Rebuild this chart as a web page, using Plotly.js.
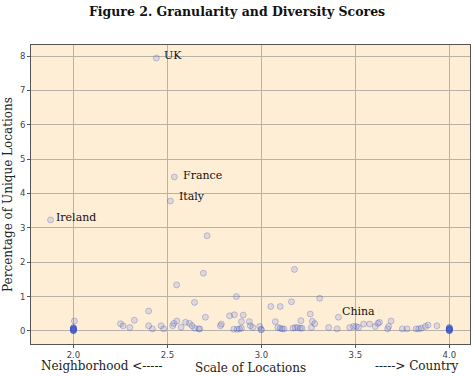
<!DOCTYPE html>
<html><head><meta charset="utf-8">
<script src="https://cdn.plot.ly/plotly-3.0.1.min.js"></script>
<style>html,body{margin:0;padding:0;background:#fff}#c{width:474px;height:376px}</style>
</head><body><div id="c"></div>
<script>
// Scale score (x) and percentage of unique locations (y)
const scale = [
  2.441, 2.537, 2.516, 1.878, 2.711, 2.691, 2.549, 3.176,
  2.005, 2.25, 2.264, 2.30, 2.324, 2.40, 2.40, 2.42, 2.466, 2.48,
  2.644, 2.867, 3.05, 2.702, 2.534, 2.528, 2.55, 2.573, 2.596, 2.617, 2.631,
  2.645, 2.667, 2.672, 2.782, 2.787, 2.831, 2.856, 2.903, 2.894, 2.936, 2.941, 2.954,
  2.853, 2.871, 2.883, 2.894, 2.991, 2.998, 3.0, 3.074,
  3.31, 3.16, 3.10, 3.26, 3.21, 3.271, 3.284, 3.41,
  3.087, 3.10, 3.11, 3.12, 3.168, 3.18, 3.193, 3.207, 3.216, 3.266, 3.358, 3.403,
  3.47, 3.49, 3.505, 3.517, 3.544, 3.576, 3.606, 3.62,
  3.628, 3.69, 3.677, 3.672, 3.75, 3.775, 3.823, 3.837, 3.851, 3.872, 3.887, 3.934,
  2.0, 2.0, 2.0, 2.0, 2.0, 2.0, 2.0, 2.0, 2.0, 2.0, 2.0, 2.0,
  4.0, 4.0, 4.0, 4.0, 4.0, 4.0, 4.0, 4.0, 4.0, 4.0, 4.0, 4.0
];
const unique = [
  7.94, 4.48, 3.78, 3.23, 2.77, 1.68, 1.34, 1.79,
  0.29, 0.21, 0.15, 0.10, 0.31, 0.58, 0.15, 0.06, 0.15, 0.06,
  0.83, 1.0, 0.71, 0.40, 0.22, 0.15, 0.29, 0.11, 0.25, 0.22, 0.15,
  0.08, 0.06, 0.06, 0.15, 0.20, 0.44, 0.47, 0.46, 0.27, 0.27, 0.15, 0.10,
  0.05, 0.05, 0.06, 0.08, 0.13, 0.05, 0.03, 0.27,
  0.95, 0.85, 0.71, 0.49, 0.30, 0.28, 0.21, 0.40,
  0.10, 0.08, 0.06, 0.06, 0.08, 0.10, 0.10, 0.08, 0.08, 0.10, 0.10, 0.06,
  0.10, 0.13, 0.13, 0.10, 0.20, 0.20, 0.13, 0.22,
  0.25, 0.29, 0.13, 0.06, 0.06, 0.06, 0.06, 0.06, 0.08, 0.13, 0.17, 0.15,
  0.0, 0.01, 0.02, 0.03, 0.04, 0.05, 0.06, 0.07, 0.08, 0.09, 0.10, 0.03,
  0.0, 0.01, 0.02, 0.03, 0.04, 0.05, 0.06, 0.07, 0.08, 0.09, 0.10, 0.03
];
// Labelled countries: name, label anchor x, label anchor y
const labelNames = ["UK", "France", "Italy", "Ireland", "China"];
const labelX = [2.472, 2.570, 2.552, 1.895, 3.42];
const labelY = [8.01, 4.53, 3.90, 3.31, 0.58];

const xTicks = [2.0, 2.5, 3.0, 3.5, 4.0];
const yTicks = [0, 1, 2, 3, 4, 5, 6, 7, 8];

const serif = "DejaVu Serif";
const annotations = labelNames.map((t, i) => ({
  x: labelX[i], y: labelY[i], xref: "x", yref: "y", text: t, showarrow: false,
  xanchor: "left", yanchor: "middle", font: {family: serif, size: 11, color: "#111"}
}));
annotations.push({x: 0.018, y: -0.072, xref: "paper", yref: "paper", text: "Neighborhood <-----",
  showarrow: false, xanchor: "left", yanchor: "middle", font: {family: serif, size: 12, color: "#222"}});
annotations.push({x: 0.98, y: -0.072, xref: "paper", yref: "paper", text: "-----> Country",
  showarrow: false, xanchor: "right", yanchor: "middle", font: {family: serif, size: 12, color: "#222"}});

const trace = {
  x: scale, y: unique, type: "scatter", mode: "markers",
  marker: {size: 6, color: "rgba(60,85,200,0.15)", line: {color: "rgba(60,85,200,0.3)", width: 1}},
  hoverinfo: "skip"
};

const layout = {
  width: 474, height: 376,
  margin: {l: 31, r: 4, t: 45, b: 32},
  paper_bgcolor: "#ffffff", plot_bgcolor: "#FFEED6",
  showlegend: false,
  title: {text: "<b>Figure 2. Granularity and Diversity Scores</b>", x: 0.5, xanchor: "center",
    y: 0.982, yanchor: "top", font: {family: serif, size: 12.5, color: "#111"}},
  xaxis: {range: [1.774, 4.110], tickvals: xTicks, ticktext: xTicks.map(v => v.toFixed(1)),
    showgrid: true, gridcolor: "#b9b2a8", gridwidth: 1, zeroline: false,
    showline: true, linecolor: "#555", linewidth: 1, mirror: true,
    ticks: "outside", ticklen: 3, tickcolor: "#555",
    tickfont: {family: "DejaVu Sans", size: 8.5, color: "#444"},
    title: {text: "Scale of Locations", standoff: 4, font: {family: serif, size: 12, color: "#222"}}},
  yaxis: {range: [-0.38, 8.32], tickvals: yTicks,
    showgrid: true, gridcolor: "#b9b2a8", gridwidth: 1, zeroline: false,
    showline: true, linecolor: "#555", linewidth: 1, mirror: true,
    ticks: "outside", ticklen: 3, tickcolor: "#555",
    tickfont: {family: "DejaVu Sans", size: 8.5, color: "#444"},
    title: {text: "Percentage of Unique Locations", standoff: 4, font: {family: serif, size: 12, color: "#222"}}},
  annotations: annotations
};
Plotly.newPlot("c", [trace], layout, {displayModeBar: false, staticPlot: true});
</script></body></html>
